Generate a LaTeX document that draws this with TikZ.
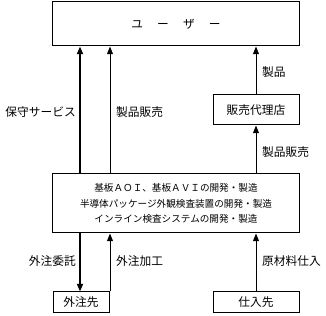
\documentclass[tikz,border=0pt]{standalone}
\usepackage{fontspec}
\newfontfamily\jpfont{Noto Sans CJK JP}
\usetikzlibrary{arrows.meta, positioning, calc}

\begin{document}
\begin{tikzpicture}[x=0.03cm, y=-0.03cm, >={Triangle[width=5pt, length=6.5pt]},
    box/.style={draw, line width=0.85pt, inner sep=0pt, font=\jpfont\fontsize{10}{12}\selectfont},
    lbl/.style={inner sep=0pt, font=\jpfont\fontsize{10}{12}\selectfont},
    thin/.style={line width=0.85pt},
    heavy/.style={line width=1.8pt}]
    \useasboundingbox (0,0) rectangle (326,316);

    % Boxes
    \node [box, minimum width=7.38cm, minimum height=1.32cm] (user) at (176,24)
        {ユ\hspace{1.2em}ー\hspace{1.2em}ザ\hspace{1.2em}ー};
    \node [box, minimum width=2.58cm, minimum height=0.9cm] (dealer) at (256,110) {販売代理店};
    \node [box, minimum width=7.38cm, minimum height=1.77cm, align=center,
        font=\jpfont\fontsize{8.2}{13.2}\selectfont] (maker) at (176,203.5)
        {基板ＡＯＩ、基板ＡＶＩの開発・製造\\半導体パッケージ外観検査装置の開発・製造\\インライン検査システムの開発・製造};
    \node [box, minimum width=1.68cm, minimum height=0.63cm] (outsrc) at (81,302.5) {外注先};
    \node [box, minimum width=2.58cm, minimum height=0.63cm] (supplier) at (256,302.5) {仕入先};

    % Columns
    \coordinate (c1) at (80,0);
    \coordinate (c2) at (110,0);
    \coordinate (c3) at (256,0);

    % Arrows
    \draw [->, heavy] (maker.north -| c1) -- (user.south -| c1);
    \draw [->, thin] (maker.north -| c2) -- (user.south -| c2);
    \draw [->, thin] (dealer.north -| c3) -- (user.south -| c3);
    \draw [->, thin] (maker.north -| c3) -- (dealer.south -| c3);
    \draw [->, heavy] (maker.south -| c1) -- (outsrc.north -| c1);
    \draw [->, thin] (outsrc.north -| c2) -- (maker.south -| c2);
    \draw [->, thin] (supplier.north -| c3) -- (maker.south -| c3);

    % Labels
    \node [lbl, anchor=east] (l1) at (76,112) {保守サービス};
    \node [lbl, anchor=west] (l2) at (116,112) {製品販売};
    \node [lbl, anchor=west] (l3) at (262,72) {製品};
    \node [lbl, anchor=west] (l4) at (262,152) {製品販売};
    \node [lbl, anchor=east] (l5) at (76,261) {外注委託};
    \node [lbl, anchor=west] (l6) at (116,261) {外注加工};
    \node [lbl, anchor=west] (l7) at (262,261) {原材料仕入};
\end{tikzpicture}
\end{document}
